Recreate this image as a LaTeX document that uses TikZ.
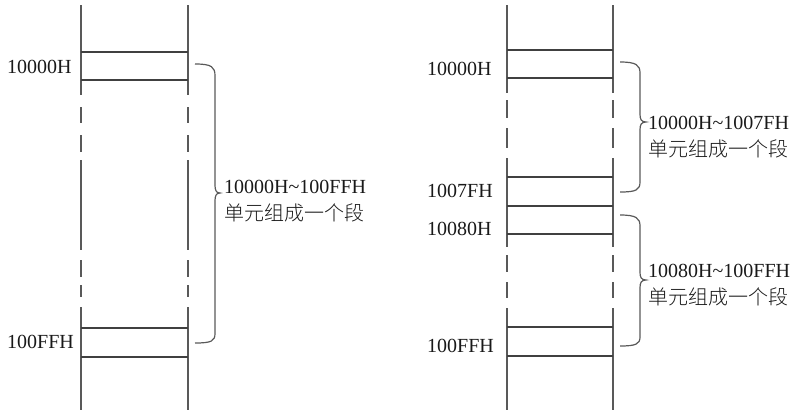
\documentclass[tikz,border=0pt]{standalone}
\usepackage{fontspec}
\setmainfont{Liberation Serif}
\newfontfamily\cjk{Noto Sans CJK SC Light}
\tikzset{
  memline/.style={draw=black!65, line width=1.4pt},
  cellline/.style={draw=black!75, line width=1.4pt},
  bracepath/.style={draw=black!65, line width=1.2pt},
  addr/.style={anchor=west, inner sep=0pt, text=black!90},
  segtext/.style={anchor=west, inner sep=0pt, align=left, text=black!90}
}
\begin{document}
\begin{tikzpicture}[x=1pt, y=-1pt, font=\fontsize{20}{27}\selectfont]
  \useasboundingbox (0,0) rectangle (800,415);
  % left memory column
  \draw[memline] (81,5) -- (81,95);
  \draw[memline] (81,107) -- (81,123);
  \draw[memline] (81,135) -- (81,152);
  \draw[memline] (81,160) -- (81,250);
  \draw[memline] (81,260) -- (81,277);
  \draw[memline] (81,285) -- (81,297);
  \draw[memline] (81,307) -- (81,410);
  \draw[memline] (188,5) -- (188,95);
  \draw[memline] (188,107) -- (188,123);
  \draw[memline] (188,135) -- (188,152);
  \draw[memline] (188,160) -- (188,250);
  \draw[memline] (188,260) -- (188,277);
  \draw[memline] (188,285) -- (188,297);
  \draw[memline] (188,307) -- (188,410);
  \draw[cellline] (81,52) -- (188,52);
  \draw[cellline] (81,80) -- (188,80);
  \draw[cellline] (81,328) -- (188,328);
  \draw[cellline] (81,357) -- (188,357);
  \node[addr] (la) at (7,67) {10000H};
  \node[addr] (lb) at (7,342) {100FFH};
  \draw[bracepath] (195,64) .. controls (212,64) and (215,67) .. (215,76)
    -- (215,185) .. controls (215,190) and (216,193) .. (220,193)
    .. controls (216,193) and (215,196) .. (215,201)
    -- (215,333) .. controls (215,341) and (212,343) .. (195,343);
  \node[segtext] (lt) at (224,201) {10000H\textasciitilde100FFH\\{\cjk 单元组成一个段}};
  % right memory column
  \draw[memline] (507,5) -- (507,93);
  \draw[memline] (507,100) -- (507,118);
  \draw[memline] (507,128) -- (507,148);
  \draw[memline] (507,158) -- (507,247);
  \draw[memline] (507,255) -- (507,272);
  \draw[memline] (507,282) -- (507,298);
  \draw[memline] (507,308) -- (507,410);
  \draw[memline] (613,5) -- (613,93);
  \draw[memline] (613,100) -- (613,118);
  \draw[memline] (613,128) -- (613,148);
  \draw[memline] (613,158) -- (613,247);
  \draw[memline] (613,255) -- (613,272);
  \draw[memline] (613,282) -- (613,298);
  \draw[memline] (613,308) -- (613,410);
  \draw[cellline] (507,50) -- (613,50);
  \draw[cellline] (507,78) -- (613,78);
  \draw[cellline] (507,177) -- (613,177);
  \draw[cellline] (507,206) -- (613,206);
  \draw[cellline] (507,234) -- (613,234);
  \draw[cellline] (507,327) -- (613,327);
  \draw[cellline] (507,356) -- (613,356);
  \node[addr] (ra) at (427,69) {10000H};
  \node[addr] (rb) at (427,191) {1007FH};
  \node[addr] (rc) at (427,229) {10080H};
  \node[addr] (rd) at (427,346) {100FFH};
  \draw[bracepath] (620,62) .. controls (636,62) and (640,65) .. (640,73)
    -- (640,114) .. controls (640,119) and (641,122) .. (646,122)
    .. controls (641,122) and (640,125) .. (640,130)
    -- (640,182) .. controls (640,190) and (636,192) .. (620,192);
  \node[segtext] (rt) at (648,137) {10000H\textasciitilde1007FH\\{\cjk 单元组成一个段}};
  \draw[bracepath] (620,215) .. controls (636,215) and (640,218) .. (640,226)
    -- (640,272) .. controls (640,277) and (641,280) .. (646,280)
    .. controls (641,280) and (640,283) .. (640,288)
    -- (640,337) .. controls (640,344) and (636,346) .. (620,346);
  \node[segtext] (rs) at (648,285) {10080H\textasciitilde100FFH\\{\cjk 单元组成一个段}};
\end{tikzpicture}
\end{document}
